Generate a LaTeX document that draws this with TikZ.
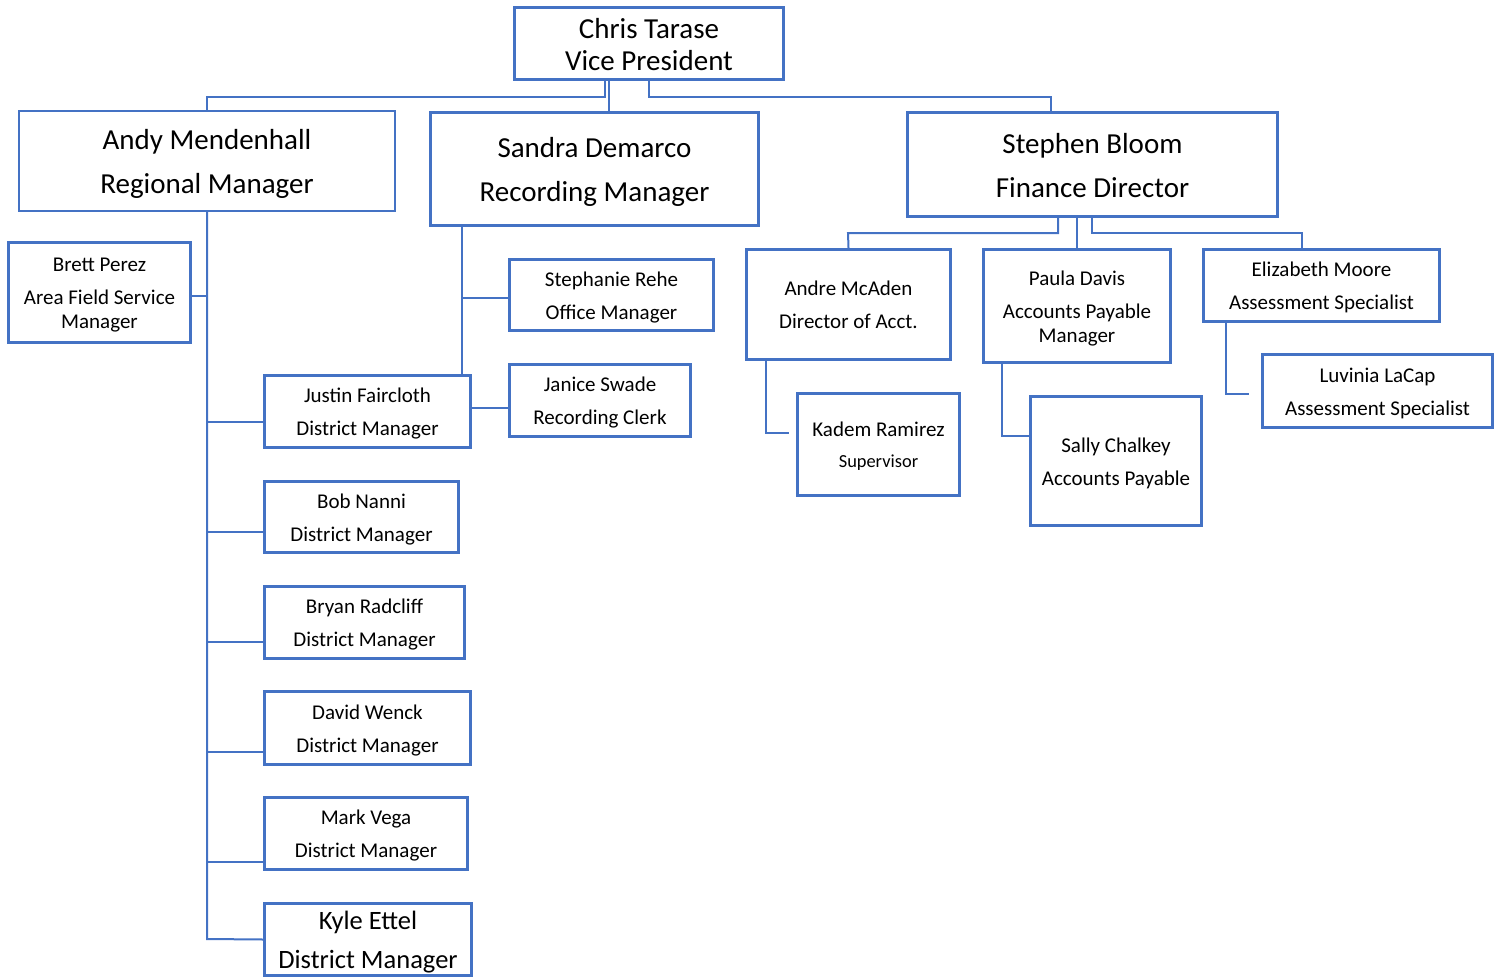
\documentclass[tikz,border=0pt]{standalone}
\usepackage{fontspec}
\setmainfont{Carlito}
\definecolor{ob}{RGB}{68,114,196}
\newcommand{\fs}{\rule{0pt}{\dimexpr\fontcharht\font`h+0.28em\relax}}
\newcommand{\ls}{\rule[-0.25em]{0pt}{0pt}}
\tikzset{
  box/.style={draw=ob, line width=3pt, inner sep=0pt, align=center, text=black},
  big/.style={font=\fontsize{29}{35}\selectfont},
  mid/.style={font=\fontsize{26.5}{32}\selectfont},
  small/.style={font=\fontsize{21}{24}\selectfont},
  conn/.style={draw=ob, line width=2pt},
}
\begin{document}
\begin{tikzpicture}[x=1pt,y=-1pt]
\useasboundingbox (0,0) rectangle (1502,979);
% top
\node[box, big, font=\fontsize{29}{32}\selectfont, minimum width=269, minimum height=72] (chris) at (649,43.5) {\fs Chris Tarase\\Vice President\ls};
\node[box, big, line width=1.5pt, minimum width=376, minimum height=100] (andy) at (207,161) {\fs Andy Mendenhall\\[9pt]Regional Manager\ls};
\node[box, big, minimum width=328, minimum height=113] (sandra) at (594.5,169) {\fs Sandra Demarco\\[9pt]Recording Manager\ls};
\node[box, big, minimum width=370, minimum height=104] (stephen) at (1092.5,164.5) {\fs Stephen Bloom\\[9pt]Finance Director\ls};
% Andy's branch
\node[box, small, minimum width=182, minimum height=100] (brett) at (99.5,292.5) {\fs Brett Perez\\[9pt]Area Field Service\\Manager\ls};
\node[box, small, minimum width=206, minimum height=72] (justin) at (367.5,411.5) {\fs Justin Faircloth\\[9pt]District Manager\ls};
\node[box, small, minimum width=194, minimum height=71] (bob) at (361.5,517) {\fs Bob Nanni\\[9pt]District Manager\ls};
\node[box, small, minimum width=200, minimum height=72] (bryan) at (364.5,622.5) {\fs Bryan Radcliff\\[9pt]District Manager\ls};
\node[box, small, minimum width=206, minimum height=73] (david) at (367.5,728) {\fs David Wenck\\[9pt]District Manager\ls};
\node[box, small, minimum width=203, minimum height=72] (mark) at (366,833.5) {\fs Mark Vega\\[9pt]District Manager\ls};
\node[box, mid, minimum width=207, minimum height=72] (kyle) at (368,939.5) {\fs Kyle Ettel\\[7.5pt]District Manager\ls};
% Sandra's branch
\node[box, small, minimum width=204, minimum height=71] (stephanie) at (611.5,295) {\fs Stephanie Rehe\\[9pt]Office Manager\ls};
\node[box, small, minimum width=181, minimum height=72] (janice) at (600,400.5) {\fs Janice Swade\\[9pt]Recording Clerk\ls};
% Stephen's branch
\node[box, small, minimum width=204, minimum height=110] (andre) at (848.5,304.5) {\fs Andre McAden\\[9pt]Director of Acct.\ls};
\node[box, small, minimum width=187, minimum height=113] (paula) at (1077,306) {\fs Paula Davis\\[9pt]Accounts Payable\\Manager\ls};
\node[box, small, minimum width=236, minimum height=72] (elizabeth) at (1321.5,285.5) {\fs Elizabeth Moore\\[9pt]Assessment Specialist\ls};
\node[box, small, minimum width=162, minimum height=102] (kadem) at (878.5,444.5) {\fs Kadem Ramirez\\[7pt]{\fontsize{18.4}{22}\selectfont Supervisor}\ls};
\node[box, small, minimum width=171, minimum height=129] (sally) at (1116,461) {\fs Sally Chalkey\\[9pt]Accounts Payable\ls};
\node[box, small, minimum width=230, minimum height=73] (luvinia) at (1377.5,391) {\fs Luvinia LaCap\\[9pt]Assessment Specialist\ls};
\coordinate (kgap) at (789,433);
\coordinate (lgap) at (1249,394);
% connectors top
\draw[conn] (chris.south -| 605,0) -- (605,97) -- (207,97) -- (andy.north);
\draw[conn] (chris.south -| 609,0) -- (sandra.north -| 609,0);
\draw[conn] (chris.south -| 649,0) -- (649,97) -- (1051,97) -- (stephen.north -| 1051,0);
% Andy
\draw[conn] (andy.south) -- (207,939) -- (kyle.west);
\draw[conn] (brett.east |- 0,296) -- (207,296);
\draw[conn] (207,422) -- (justin.west |- 0,422);
\draw[conn] (207,532) -- (bob.west |- 0,532);
\draw[conn] (207,642) -- (bryan.west |- 0,642);
\draw[conn] (207,752) -- (david.west |- 0,752);
\draw[conn] (207,862) -- (mark.west |- 0,862);
% Sandra
\draw[conn] (sandra.south -| 462,0) -- (justin.north -| 462,0);
\draw[conn] (462,298) -- (stephanie.west |- 0,298);
\draw[conn] (justin.east |- 0,408) -- (janice.west |- 0,408);
% Stephen
\draw[conn] (stephen.south -| 1058,0) -- (1058,233) -- (848,233) -- (andre.north);
\draw[conn] (stephen.south -| 1077,0) -- (paula.north);
\draw[conn] (stephen.south -| 1092,0) -- (1092,233) -- (1302,233) -- (elizabeth.north -| 1302,0);
\draw[conn] (andre.south -| 766,0) -- (766,433) -- (kgap);
\draw[conn] (paula.south -| 1002,0) -- (1002,436) -- (sally.west |- 0,436);
\draw[conn] (elizabeth.south -| 1226,0) -- (1226,394) -- (lgap);
\end{tikzpicture}
\end{document}
